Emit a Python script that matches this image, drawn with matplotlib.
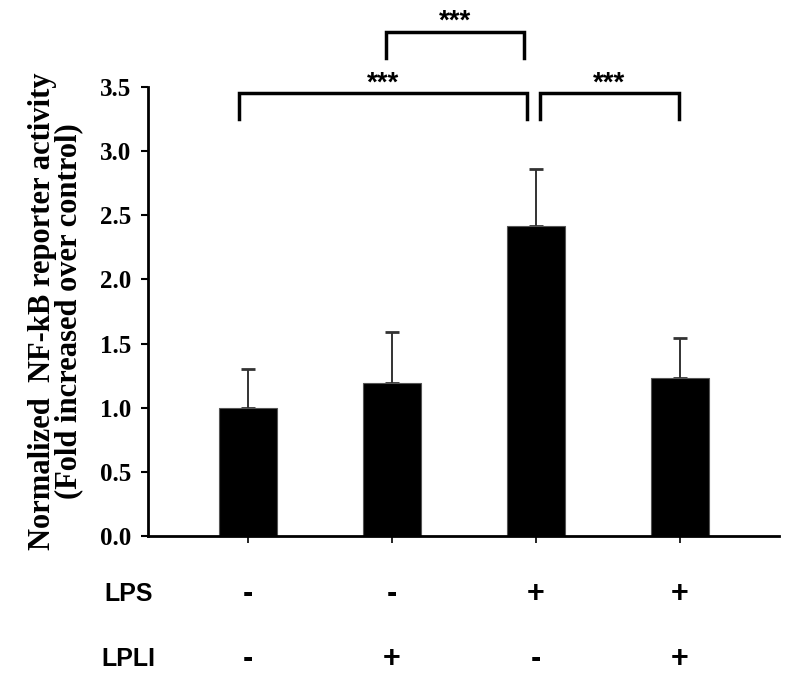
import matplotlib
matplotlib.use("Agg")
import matplotlib.pyplot as plt

groups = ["Control", "LPLI", "LPS", "LPS+LPLI"]
means = [1.00, 1.19, 2.42, 1.23]
errors = [0.30, 0.40, 0.44, 0.31]
lps = ["-", "-", "+", "+"]
lpli = ["-", "+", "-", "+"]
yticks = [0.0, 0.5, 1.0, 1.5, 2.0, 2.5, 3.0, 3.5]
# significance brackets: (left, right, top, foot)
brackets = [(0, 2, 3.45, 3.25), (2, 3, 3.45, 3.25), (1, 2, 3.93, 3.73)]
offsets = [(-0.06, -0.06), (0.03, -0.01), (-0.04, -0.08)]
sig = ["***", "***", "***"]

fig = plt.figure(figsize=(7.93, 6.81), dpi=100)
ax = fig.add_axes([0.1866, 0.2130, 0.7957, 0.6592])

x = list(range(len(groups)))
ax.bar(x, means, width=0.40, color="black", edgecolor="#555555", linewidth=0.8, zorder=2)
ax.errorbar(x, means, yerr=[[0]*len(errors), errors], fmt="none", ecolor="#333333",
            elinewidth=1.4, capsize=5, capthick=2, zorder=1)

ax.set_xlim(-0.694, 3.6875)
ax.set_ylim(0, 3.5)
ax.set_yticks(yticks)
ax.set_yticklabels([f"{v:.1f}" for v in yticks], fontfamily="Liberation Serif",
                   fontweight="bold", fontsize=18)
ax.set_xticks(x)
ax.set_xticklabels([])
ax.tick_params(axis="y", direction="out", length=5, width=1.5, pad=7)
ax.tick_params(axis="x", direction="out", length=5, width=1.2)
for s in ["top", "right"]:
    ax.spines[s].set_visible(False)
for s in ["left", "bottom"]:
    ax.spines[s].set_linewidth(2)

ax.set_ylabel("Normalized  NF-kB reporter activity\n(Fold increased over control)",
              fontfamily="Liberation Serif", fontweight="bold", fontsize=22,
              linespacing=0.88, labelpad=12)

for (l, r, top, foot), (ol, orr), s in zip(brackets, offsets, sig):
    xl, xr = l + ol, r + orr
    ax.plot([xl, xl, xr, xr], [foot, top, top, foot], color="black", lw=2.5,
            clip_on=False, solid_joinstyle="miter")
    ax.text((xl + xr) / 2, top + 0.08, s, ha="center", va="center",
            fontfamily="Liberation Sans", fontweight="bold", fontsize=20, clip_on=False)

trans = ax.get_xaxis_transform()
row_y = [-0.13, -0.275]
for label, row, yy in zip(["LPS", "LPLI"], [lps, lpli], row_y):
    ax.text(-0.83, yy, label, transform=trans, ha="center", va="center",
            fontfamily="Liberation Sans", fontweight="bold", fontsize=18)
    for xi, sym in zip(x, row):
        ax.text(xi, yy, sym, transform=trans, ha="center", va="center",
                fontfamily="Liberation Sans", fontweight="bold", fontsize=22)

fig.savefig("out.png", dpi=100)
